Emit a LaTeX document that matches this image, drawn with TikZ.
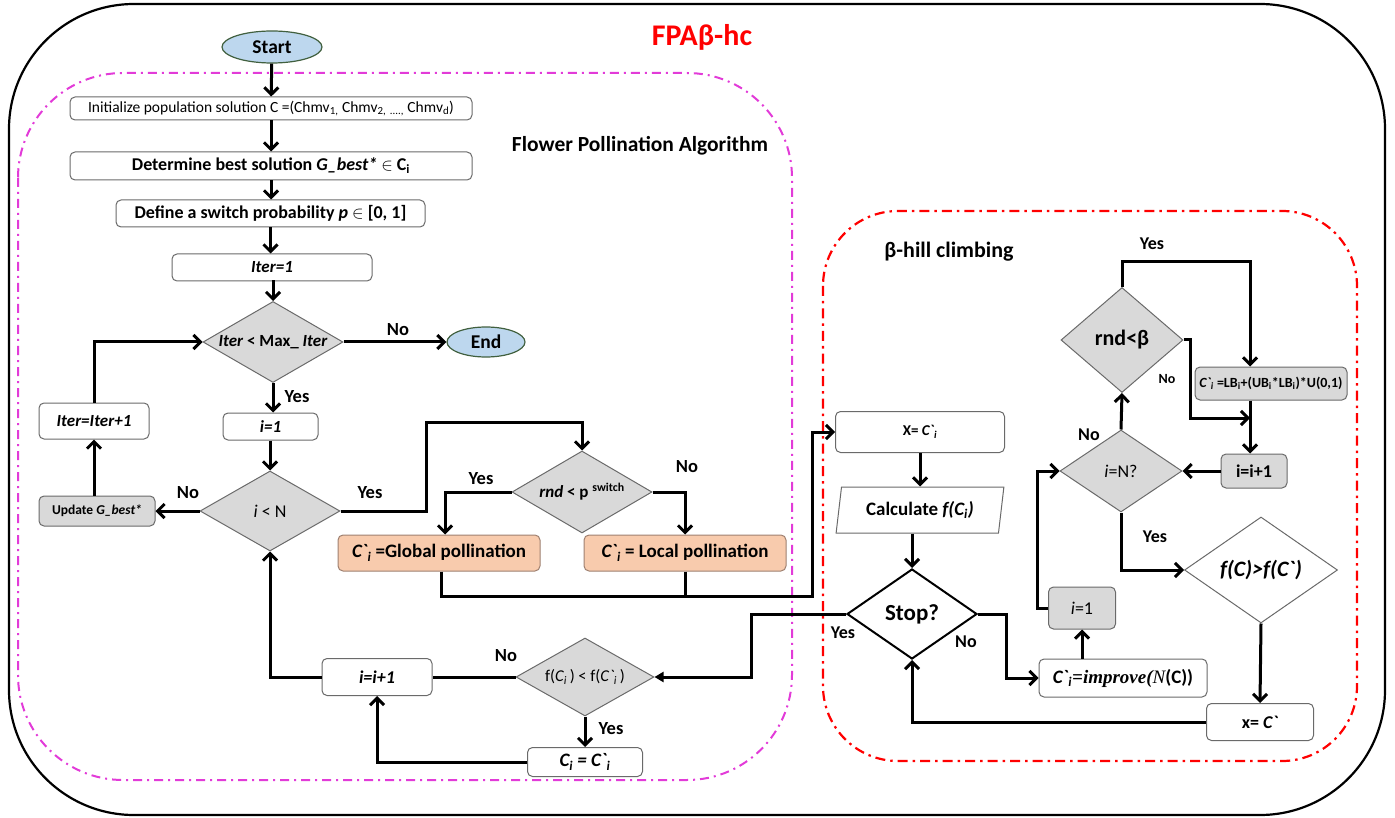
\documentclass[tikz,border=0pt]{standalone}
\usepackage{fontspec}
\setmainfont{Carlito}[Ligatures=TeXOff]
\newfontfamily\tnr{Liberation Serif}[Ligatures=TeXOff]
\usetikzlibrary{shapes.geometric,arrows.meta}
\newcommand{\fsz}[1]{\fontsize{#1}{#1}\selectfont}
\definecolor{bordergray}{HTML}{6A6A6A}
\definecolor{boxgray}{HTML}{D9D9D9}
\definecolor{peach}{HTML}{F8CBAD}
\definecolor{peachborder}{HTML}{9E8070}
\definecolor{termfill}{HTML}{BDD7EE}
\definecolor{termborder}{HTML}{41603F}
\definecolor{fpamag}{HTML}{E23BD8}
\tikzset{
  box/.style={draw=bordergray, line width=1pt, rounded corners=5pt, fill=white, inner sep=0pt, align=center},
  gbox/.style={box, fill=boxgray},
  pbox/.style={box, fill=peach, draw=peachborder},
  dia/.style={diamond, draw=bordergray, line width=1pt, fill=boxgray, inner sep=0pt},
  term/.style={ellipse, draw=termborder, line width=1.2pt, fill=termfill, inner sep=0pt, font=\bfseries\fsz{19.5}},
  conn/.style={line width=3pt, -{Straight Barb[length=7pt,width=14pt]}},
  tconn/.style={line width=3pt, -{Triangle[length=9pt,width=10pt]}},
  wire/.style={line width=3pt},
  lab/.style={font=\bfseries\fsz{18.5}},
  slab/.style={font=\bfseries\fsz{18}},
}
\begin{document}
\begin{tikzpicture}[x=1pt,y=-1pt]
\useasboundingbox (0,0) rectangle (1395,818);
% frames
\draw[line width=2.2pt, rounded corners=125pt] (9,4) rectangle (1385,815);
\draw[fpamag, line width=2pt, dash pattern=on 9pt off 5pt on 2pt off 5pt, rounded corners=105pt] (18,73) rectangle (792,780);
\draw[red, line width=2.2pt, dash pattern=on 10pt off 5pt on 2.5pt off 5pt, rounded corners=75pt] (823,211) rectangle (1357,761);
\node[font=\bfseries\fsz{30}, text=red] (title) at (702,37) {FPAβ-hc};
\node[font=\bfseries\fsz{21.5}] (fpa) at (640,146) {Flower Pollination Algorithm};
\node[font=\bfseries\fsz{22}] (bhc) at (949,252) {β-hill climbing};

% ---- FPA part
\node[term, minimum width=100pt, minimum height=32pt] (start) at (272,47) {Start};
\node[box, minimum width=402pt, minimum height=23pt, font=\fsz{15.5}] (init) at (271,108.5)
  {Initialize population solution C =(Chmv\textsubscript{1,} Chmv\textsubscript{2,} \textsubscript{....,} Chmv\textsubscript{d})};
\node[box, minimum width=402pt, minimum height=28pt, font=\bfseries\fsz{18}] (det) at (271,166)
  {Determine best solution \textit{G\_best*} $\in$ C\textsubscript{i}};
\node[box, minimum width=309pt, minimum height=27pt, font=\bfseries\fsz{18}] (def) at (270.5,213.5)
  {Define a switch probability \textit{p} $\in$ [0, 1]};
\node[box, minimum width=200pt, minimum height=27pt, font=\bfseries\itshape\fsz{17}] (it1) at (272,267.5) {Iter=1};
\node[dia, minimum width=140pt, minimum height=81pt, label={[font=\bfseries\fsz{17}]center:{\textit{Iter} < Max\_ \textit{Iter}}}] (d1) at (273,342) {};
\node[term, minimum width=78pt, minimum height=30pt] (end) at (486,342) {End};
\node[box, minimum width=95pt, minimum height=27pt, font=\bfseries\itshape\fsz{17}] (i1) at (270.5,426.5) {i=1};
\node[dia, minimum width=140pt, minimum height=80pt, label={[font=\fsz{18}]center:{\textit{i} < N}}] (d2) at (270,511) {};
\node[gbox, minimum width=116pt, minimum height=30pt, font=\bfseries\fsz{13.5}] (upd) at (97,511) {Update \textit{G\_best*}};
\node[box, minimum width=110pt, minimum height=36pt, font=\bfseries\itshape\fsz{17}] (itinc) at (94,421) {Iter=Iter+1};
\node[dia, minimum width=140pt, minimum height=82pt, label={[font=\bfseries\fsz{17}]center:{\textit{rnd} < p \textsuperscript{switch}}}] (d3) at (582,492) {};
\node[pbox, minimum width=202pt, minimum height=36pt, font=\bfseries\fsz{19}] (glob) at (439,553) {\textit{C`\textsubscript{i}} =Global pollination};
\node[pbox, minimum width=202pt, minimum height=36pt, font=\bfseries\fsz{19}] (loc) at (685,553) {\textit{C`\textsubscript{i}} = Local pollination};
\node[dia, minimum width=138pt, minimum height=78pt, label={[font=\fsz{16.5}]center:{f(\textit{C\textsubscript{i}}\,) < f(\textit{C`\textsubscript{i}}\,)}}] (d4) at (585,677) {};
\node[box, minimum width=110pt, minimum height=37pt, font=\bfseries\itshape\fsz{18}] (iinc) at (377,677) {i=i+1};
\node[box, minimum width=115pt, minimum height=29pt, font=\bfseries\itshape\fsz{19}] (cic) at (585,762) {C\textsubscript{i} = C`\textsubscript{i}};

% ---- beta hill climbing part
\node[box, minimum width=169pt, minimum height=41pt, font=\bfseries\fsz{15}] (xb) at (920,432) {X= \textit{C`\textsubscript{i}}};
\node[trapezium, trapezium left angle=78, trapezium right angle=102, trapezium stretches=true, draw=bordergray, line width=1pt, fill=white, inner sep=0pt, minimum width=168pt, minimum height=46pt, font=\bfseries\fsz{19}] (calc) at (920,510) {Calculate \textit{f(C\textsubscript{i})}};
\node[diamond, draw=black, line width=2pt, fill=white, inner sep=0pt, minimum width=130pt, minimum height=90pt, label={[font=\bfseries\fsz{23}]center:{Stop?}}] (stop) at (912,614) {};
\node[box, minimum width=168pt, minimum height=38pt, font=\fsz{19}] (imp) at (1123,678)
  {{\bfseries\itshape C`\textsubscript{i}}{\tnr\bfseries\itshape =improve(}{\tnr\itshape N}{\bfseries(C))}};
\node[gbox, minimum width=67pt, minimum height=42pt, font=\fsz{18}] (ione) at (1082,608) {\textit{i}=1};
\node[dia, minimum width=122pt, minimum height=82pt, label={[font=\fsz{18}]center:{\textit{i}=N?}}] (d5) at (1121,471) {};
\node[dia, minimum width=122pt, minimum height=105pt, label={[font=\bfseries\fsz{22}]center:{rnd<β}}] (d6) at (1122,340) {};
\node[gbox, minimum width=152pt, minimum height=33pt, font=\bfseries\fsz{14}] (lb) at (1271,383.5)
  {\textit{C`\textsubscript{i}} =LB\textsubscript{i}+(UB\textsubscript{i}*LB\textsubscript{i})*U(0,1)};
\node[gbox, minimum width=66pt, minimum height=34pt, font=\bfseries\fsz{18}] (iinc2) at (1254,471) {i=i+1};
\node[diamond, draw=bordergray, line width=1pt, fill=white, inner sep=0pt, minimum width=153pt, minimum height=106pt, label={[font=\bfseries\itshape\fsz{22}]center:{f(C)>f(C`)}}] (d7) at (1261,570) {};
\node[box, minimum width=107pt, minimum height=37pt, font=\bfseries\fsz{18}] (xc) at (1260,722) {x= \textit{C`}};

% ---- connectors FPA
\draw[conn] (start) -- (init);
\draw[conn] (init) -- (det);
\draw[conn] (det.south) -- (det.south |- def.north);
\draw[conn] (def.south) -- (def.south |- it1.north);
\draw[conn] (it1.south) -- (it1.south -| d1.north) -- (d1.north);
\draw[conn] (d1.east) -- (end.west);
\draw[conn] (d1.south) -- (d1.south |- i1.north);
\draw[conn] (i1.south -| d2.north) -- (d2.north);
\draw[conn] (d2.west) -- (upd.east);
\draw[conn] (itinc.south |- upd.north) -- (itinc.south);
\draw[conn] (itinc.north) |- (d1.west);
\draw[conn] (d2.east) -| (426,422) -| (d3.north);
\draw[conn] (d3.west) -| ([xshift=6pt]glob.north);
\draw[conn] (d3.east) -| (loc.north);
\coordinate (mj) at (812,596);
\draw[conn] ([xshift=2pt]glob.south) |- (mj) |- (xb.west);
\draw[wire] (loc.south) -- (loc.south |- mj);
\draw[tconn] (stop.west) -| (751,677) -- (d4.east);
\draw[wire] (d4.west) -- (iinc.east);
\draw[conn] (iinc.west) -| (d2.south);
\draw[conn] (d4.south) -- (cic.north);
\draw[conn] (cic.west) -| (iinc.south);

% ---- connectors beta-hc
\draw[conn] (xb.south) -- (xb.south |- calc.north);
\draw[conn] (stop.north |- calc.south) -- (stop.north);
\draw[conn] (stop.east) -| (1006,678) -- (imp.west);
\draw[conn] (ione.south |- imp.north) -- (ione.south);
\draw[conn] (ione.west) -| (1037,471) -- (d5.west);
\draw[conn] (d5.north) -- (d6.south);
\coordinate (yb) at (1250,262);
\draw[conn] (d6.north) |- (yb) -- (yb |- lb.north);
\draw[conn] (d6.east) -| (1190,418) -- (1250,418);
\draw[conn] (yb |- lb.south) -- (yb |- iinc2.north);
\draw[conn] (iinc2.west) -- (d5.east);
\draw[conn] (d5.south) |- (d7.west);
\draw[conn] (d7.south) -- (xc.north);
\draw[conn] (xc.west) -| (stop.south);

% ---- labels
\node[lab] (l1) at (398,330) {No};
\node[lab] (l2) at (297,397) {Yes};
\node[lab] (l3) at (188,493) {No};
\node[lab] (l4) at (370,493) {Yes};
\node[lab] (l5) at (481,479) {Yes};
\node[lab] (l6) at (687,467) {No};
\node[lab] (l7) at (506,656) {No};
\node[lab] (l8) at (611,729) {Yes};
\node[slab] (l9) at (843,633) {Yes};
\node[slab] (l10) at (966,642) {No};
\node[slab] (l11) at (1155,537) {Yes};
\node[slab] (l12) at (1089,435) {No};
\node[slab] (l13) at (1152,244) {Yes};
\node[font=\bfseries\fsz{14}] (l14) at (1167,379) {No};
\end{tikzpicture}
\end{document}
